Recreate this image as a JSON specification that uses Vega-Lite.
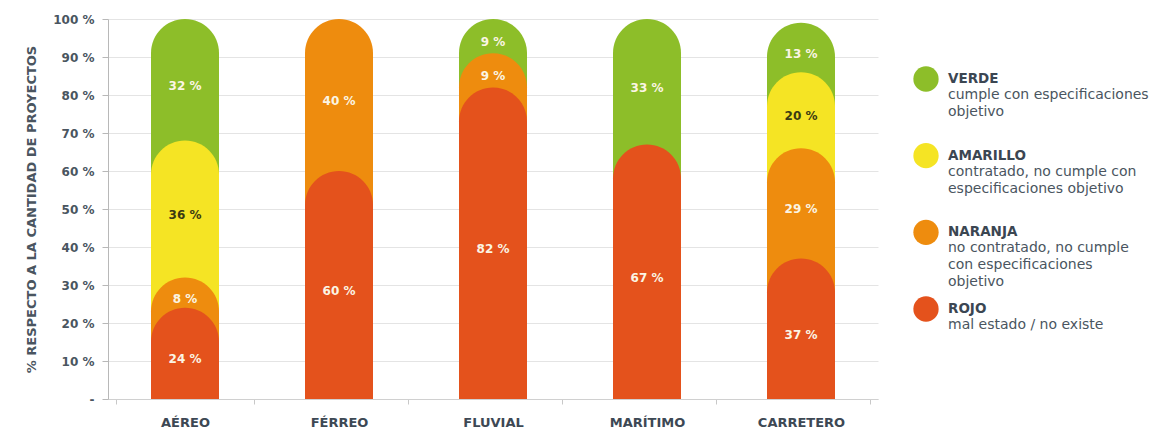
{
  "$schema": "https://vega.github.io/schema/vega-lite/v6.json",
  "padding": {"left": 25, "top": 13, "right": 0, "bottom": 0},
  "background": "white",
  "spacing": 0,
  "config": {"view": {"stroke": null}, "font": "DejaVu Sans"},
  "datasets": {
    "modos": [
      {"modo": "AÉREO", "estado": "ROJO", "pct": 24},
      {"modo": "AÉREO", "estado": "NARANJA", "pct": 8},
      {"modo": "AÉREO", "estado": "AMARILLO", "pct": 36},
      {"modo": "AÉREO", "estado": "VERDE", "pct": 32},
      {"modo": "FÉRREO", "estado": "ROJO", "pct": 60},
      {"modo": "FÉRREO", "estado": "NARANJA", "pct": 40},
      {"modo": "FLUVIAL", "estado": "ROJO", "pct": 82},
      {"modo": "FLUVIAL", "estado": "NARANJA", "pct": 9},
      {"modo": "FLUVIAL", "estado": "VERDE", "pct": 9},
      {"modo": "MARÍTIMO", "estado": "ROJO", "pct": 67},
      {"modo": "MARÍTIMO", "estado": "VERDE", "pct": 33},
      {"modo": "CARRETERO", "estado": "ROJO", "pct": 37},
      {"modo": "CARRETERO", "estado": "NARANJA", "pct": 29},
      {"modo": "CARRETERO", "estado": "AMARILLO", "pct": 20},
      {"modo": "CARRETERO", "estado": "VERDE", "pct": 13}
    ],
    "leyenda": [
      {"estado": "VERDE", "descripcion": "cumple con especificaciones\nobjetivo"},
      {"estado": "AMARILLO", "descripcion": "contratado, no cumple con\nespecificaciones objetivo"},
      {"estado": "NARANJA", "descripcion": "no contratado, no cumple\ncon especificaciones\nobjetivo"},
      {"estado": "ROJO", "descripcion": "mal estado / no existe"}
    ]
  },
  "hconcat": [
    {
      "width": 770,
      "height": 380,
      "data": {"name": "modos"},
      "transform": [
        {"calculate": "indexof(['ROJO','NARANJA','AMARILLO','VERDE'], datum.estado)", "as": "rango"},
        {"stack": "pct", "groupby": ["modo"], "sort": [{"field": "rango", "order": "ascending"}], "as": ["y0", "y1"]},
        {"calculate": "(datum.y0 + datum.y1) / 2", "as": "centro"},
        {"calculate": "datum.pct + ' %'", "as": "etiqueta"}
      ],
      "encoding": {
        "x": {
          "field": "modo",
          "type": "nominal",
          "sort": ["AÉREO", "FÉRREO", "FLUVIAL", "MARÍTIMO", "CARRETERO"],
          "title": null,
          "axis": {
            "labelAngle": 0,
            "labelFontSize": 13,
            "labelFontWeight": "bold",
            "labelColor": "#3d4854",
            "labelPadding": 12,
            "tickBand": "extent",
            "tickSize": 5,
            "tickColor": "#c8c8c8",
            "domainColor": "#d0d0d0",
            "grid": false
          }
        },
        "y": {
          "field": "y1",
          "type": "quantitative",
          "stack": null,
          "scale": {"domain": [0, 100]},
          "title": "% RESPECTO A LA CANTIDAD DE PROYECTOS",
          "axis": {
            "values": [0, 10, 20, 30, 40, 50, 60, 70, 80, 90, 100],
            "labelOverlap": false,
            "labelExpr": "datum.value === 0 ? '-' : datum.value + ' %'",
            "labelFontSize": 12,
            "labelFontWeight": "bold",
            "labelColor": "#4a5560",
            "labelPadding": 8,
            "tickSize": 6,
            "tickColor": "#b8b8b8",
            "domainColor": "#b8b8b8",
            "gridColor": "#e4e4e4",
            "titleFontSize": 13,
            "titleFontWeight": "bold",
            "titleColor": "#4a5560",
            "titlePadding": 10,
            "minExtent": 60,
            "maxExtent": 60
          }
        }
      },
      "layer": [
        {
          "mark": {"type": "bar", "width": 68, "cornerRadiusTopLeft": 34, "cornerRadiusTopRight": 34},
          "encoding": {
            "color": {
              "field": "estado",
              "type": "nominal",
              "scale": {"domain": ["VERDE", "AMARILLO", "NARANJA", "ROJO"], "range": ["#8dbe29", "#f5e424", "#ee8c0e", "#e4521c"]},
              "legend": null
            },
            "order": {"field": "y1", "sort": "descending"}
          }
        },
        {
          "mark": {"type": "text", "fontWeight": "bold", "fontSize": 12, "dy": 6},
          "encoding": {
            "y": {"field": "centro", "type": "quantitative"},
            "text": {"field": "etiqueta"},
            "color": {"condition": {"test": "datum.estado === 'AMARILLO'", "value": "#3b3a12"}, "value": "#fbf5e4"}
          }
        }
      ]
    },
    {
      "width": 285,
      "height": 380,
      "data": {"name": "leyenda"},
      "encoding": {
        "y": {
          "field": "estado",
          "type": "nominal",
          "sort": ["VERDE", "AMARILLO", "NARANJA", "ROJO"],
          "scale": {"type": "point", "padding": 0, "range": [60, 290]},
          "axis": null
        }
      },
      "layer": [
        {
          "mark": {"type": "point", "filled": true, "shape": "circle", "size": 640, "opacity": 1},
          "encoding": {
            "x": {"datum": 0, "type": "quantitative", "scale": {"domain": [0, 22], "range": [48, 70]}, "axis": null},
            "color": {
              "field": "estado",
              "type": "nominal",
              "scale": {"domain": ["VERDE", "AMARILLO", "NARANJA", "ROJO"], "range": ["#8dbe29", "#f5e424", "#ee8c0e", "#e4521c"]},
              "legend": null
            }
          }
        },
        {
          "mark": {"type": "text", "align": "left", "baseline": "middle", "fontWeight": "bold", "fontSize": 13.5, "color": "#3b4652"},
          "encoding": {
            "x": {"datum": 22, "type": "quantitative"},
            "text": {"field": "estado"}
          }
        },
        {
          "mark": {"type": "text", "align": "left", "baseline": "top", "dy": 9, "fontSize": 14, "lineHeight": 17, "lineBreak": "\n", "color": "#4a5560"},
          "encoding": {
            "x": {"datum": 22, "type": "quantitative"},
            "text": {"field": "descripcion"}
          }
        }
      ]
    }
  ]
}
